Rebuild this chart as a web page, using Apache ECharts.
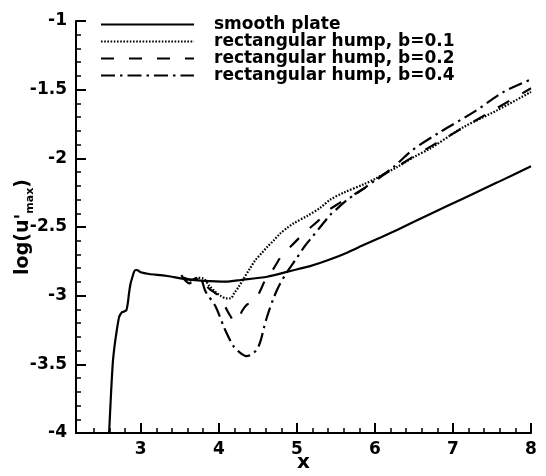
<!DOCTYPE html>
<html>
<head>
<meta charset="utf-8">
<script src="https://cdn.jsdelivr.net/npm/echarts@6/dist/echarts.min.js"></script>
<style>html,body{margin:0;padding:0;background:#fff}#c{width:546px;height:476px}</style>
</head>
<body>
<div id="c"></div>
<script>
var seriesNames = ['smooth plate', 'rectangular hump, b=0.1', 'rectangular hump, b=0.2', 'rectangular hump, b=0.4'];
var xTickLabels = [3, 4, 5, 6, 7, 8];
var xMinorTicks = [2.4, 2.6, 2.8, 3.2, 3.4, 3.6, 3.8, 4.2, 4.4, 4.6, 4.8, 5.2, 5.4, 5.6, 5.8, 6.2, 6.4, 6.6, 6.8, 7.2, 7.4, 7.6, 7.8];

var smoothPlate = [[2.594,-4],[2.62,-3.7],[2.64,-3.5],[2.658,-3.395],[2.68,-3.3],[2.70,-3.225],[2.72,-3.16],[2.735,-3.14],[2.76,-3.12],[2.786,-3.116],[2.817,-3.104],[2.835,-3.05],[2.85,-2.98],[2.87,-2.91],[2.894,-2.862],[2.915,-2.825],[2.936,-2.813],[2.96,-2.815],[3.0,-2.83],[3.106,-2.842],[3.32,-2.855],[3.576,-2.88],[3.77,-2.89],[4.09,-2.898],[4.28,-2.886],[4.62,-2.862],[4.92,-2.82],[5.17,-2.785],[5.43,-2.735],[5.65,-2.685],[5.86,-2.63],[6.08,-2.575],[6.29,-2.52],[6.71,-2.405],[7.14,-2.29],[7.57,-2.175],[8.0,-2.057]];

var humpB01 = [[3.55,-2.87],[3.65,-2.89],[3.73,-2.87],[3.8,-2.875],[3.88,-2.93],[3.95,-2.97],[4.02,-3.0],[4.1,-3.02],[4.15,-3.02],[4.2,-2.98],[4.25,-2.94],[4.32,-2.875],[4.4,-2.8],[4.47,-2.74],[4.55,-2.69],[4.62,-2.645],[4.7,-2.6],[4.79,-2.546],[4.88,-2.505],[4.96,-2.473],[5.13,-2.42],[5.3,-2.36],[5.43,-2.3],[5.6,-2.25],[5.86,-2.188],[6.0,-2.15],[6.29,-2.062],[6.5,-1.99],[6.71,-1.928],[7.0,-1.82],[7.14,-1.771],[7.57,-1.649],[8.0,-1.516]];

var humpB02 = [[3.55,-2.87],[3.65,-2.885],[3.73,-2.87],[3.8,-2.9],[3.87,-2.946],[3.95,-2.98],[4.02,-3.01],[4.1,-3.1],[4.15,-3.15],[4.2,-3.19],[4.25,-3.17],[4.3,-3.11],[4.36,-3.065],[4.43,-3.05],[4.49,-3.01],[4.55,-2.94],[4.6,-2.88],[4.69,-2.813],[4.81,-2.704],[4.94,-2.631],[5.11,-2.535],[5.26,-2.462],[5.41,-2.377],[5.54,-2.328],[5.86,-2.22],[6.14,-2.11],[6.29,-2.06],[6.5,-1.985],[7.0,-1.82],[7.5,-1.655],[8.0,-1.49]];

var humpB04 = [[3.52,-2.85],[3.57,-2.89],[3.62,-2.91],[3.68,-2.89],[3.76,-2.875],[3.83,-2.97],[3.96,-3.08],[4.07,-3.235],[4.19,-3.37],[4.27,-3.415],[4.35,-3.44],[4.43,-3.425],[4.5,-3.38],[4.54,-3.32],[4.58,-3.23],[4.62,-3.15],[4.7,-3.02],[4.77,-2.93],[4.85,-2.85],[4.92,-2.79],[5.0,-2.725],[5.1,-2.64],[5.2,-2.57],[5.3,-2.5],[5.43,-2.41],[5.52,-2.364],[5.65,-2.30],[5.86,-2.219],[6.05,-2.14],[6.24,-2.062],[6.48,-1.94],[6.84,-1.807],[7.27,-1.662],[7.65,-1.516],[8.0,-1.425]];

var FONT = 'DejaVu Sans';
var chart = echarts.init(document.getElementById('c'), null, {renderer: 'canvas'});
var lineSeries = function (name, data, type, smooth) {
  return {
    name: name, type: 'line', data: data, showSymbol: false, symbol: 'none',
    smooth: smooth, xAxisIndex: 0, yAxisIndex: 0, animation: false,
    itemStyle: {color: '#000'},
    lineStyle: {color: '#000', width: 2.2, type: type}
  };
};
chart.setOption({
  animation: false,
  backgroundColor: '#fff',
  grid: {left: 76, right: 15, top: 21, bottom: 43, containLabel: false, outerBoundsMode: 'none'},
  legend: {
    orient: 'vertical', left: 100, top: 16, padding: 0, itemWidth: 93, itemHeight: 10, itemGap: 0,
    data: seriesNames,
    itemStyle: {opacity: 0},
    textStyle: {fontFamily: FONT, fontWeight: 'bold', fontSize: 17, color: '#000', lineHeight: 16.7, padding: [0, 0, 0, 15]}
  },
  xAxis: [{
    type: 'value', min: 2.17, max: 8, position: 'bottom',
    axisLine: {show: true, onZero: false, lineStyle: {color: '#000', width: 2}},
    axisTick: {show: true, inside: true, length: 10, customValues: xTickLabels, lineStyle: {color: '#000', width: 2}},
    axisLabel: {show: true, customValues: xTickLabels, margin: 8, color: '#000', fontFamily: FONT, fontWeight: 'bold', fontSize: 17},
    splitLine: {show: false},
    name: 'x', nameLocation: 'middle', nameGap: 20, nameMoveOverlap: false,
    nameTextStyle: {color: '#000', fontFamily: FONT, fontWeight: 'bold', fontSize: 20}
  }, {
    type: 'value', min: 2.17, max: 8, position: 'bottom',
    axisLine: {show: false, onZero: false},
    axisTick: {show: true, inside: true, length: 5, customValues: xMinorTicks, lineStyle: {color: '#000', width: 1.5}},
    axisLabel: {show: false}, splitLine: {show: false}
  }],
  yAxis: {
    type: 'value', min: -4, max: -1, interval: 0.5,
    axisLine: {show: true, onZero: false, lineStyle: {color: '#000', width: 2}},
    axisTick: {show: true, inside: true, length: 10, lineStyle: {color: '#000', width: 2}},
    minorTick: {show: true, splitNumber: 5, length: 5, lineStyle: {color: '#000', width: 1.5}},
    axisLabel: {margin: 9, color: '#000', fontFamily: FONT, fontWeight: 'bold', fontSize: 17},
    splitLine: {show: false}, minorSplitLine: {show: false},
    name: "{a|log(u'}{b|max}{a|)}", nameLocation: 'middle', nameGap: 40, nameRotate: 90, nameMoveOverlap: false,
    nameTextStyle: {
      color: '#000', fontFamily: FONT, fontWeight: 'bold', fontSize: 19,
      rich: {
        a: {fontFamily: FONT, fontWeight: 'bold', fontSize: 19, color: '#000', lineHeight: 26, verticalAlign: 'middle'},
        b: {fontFamily: FONT, fontWeight: 'bold', fontSize: 11, color: '#000', lineHeight: 26, verticalAlign: 'bottom'}
      }
    }
  },
  series: [
    lineSeries(seriesNames[0], smoothPlate, 'solid', 0.2),
    lineSeries(seriesNames[1], humpB01, [1.6, 1.6], 0.3),
    lineSeries(seriesNames[2], humpB02, [13, 15], 0.3),
    lineSeries(seriesNames[3], humpB04, [14, 5, 2.5, 5], 0.3)
  ]
});
</script>
</body>
</html>
